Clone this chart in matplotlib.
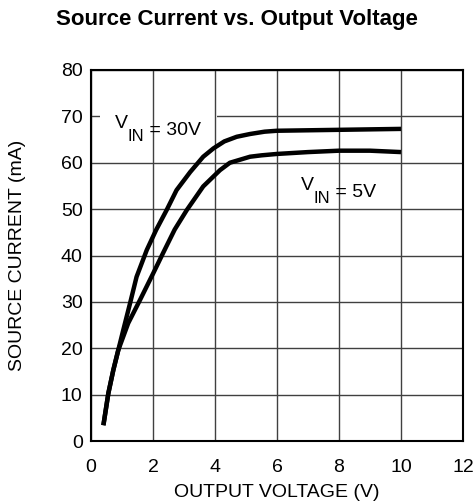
import matplotlib
matplotlib.use("Agg")
import matplotlib.pyplot as plt
from matplotlib.patches import Rectangle

plt.rcParams['font.family'] = ['Liberation Sans', 'DejaVu Sans']

# Data
v_30 = [0.4, 0.56, 0.72, 0.88, 1.04, 1.26, 1.47, 1.8, 2.1, 2.44, 2.76, 3.2, 3.62, 3.95,
        4.3, 4.7, 5.13, 5.6, 6.0, 7.0, 8.0, 9.0, 10.0]
i_30 = [3.4, 10.3, 15.3, 19.6, 23.9, 29.7, 35.4, 41.2, 45.5, 49.8, 54.1, 58.0, 61.3, 63.1,
        64.6, 65.6, 66.2, 66.7, 66.9, 67.0, 67.1, 67.2, 67.3]
v_5 = [0.4, 0.56, 0.72, 0.88, 1.2, 1.58, 2.01, 2.33, 2.7, 3.09, 3.62, 4.16, 4.48, 5.13,
       5.5, 6.0, 7.0, 8.0, 9.0, 10.0]
i_5 = [3.4, 10.3, 15.3, 19.6, 25.4, 30.4, 36.2, 40.6, 45.6, 49.8, 54.9, 58.4, 60.0, 61.3,
       61.6, 61.9, 62.3, 62.6, 62.6, 62.3]
x_ticks = [0, 2, 4, 6, 8, 10, 12]
y_ticks = [0, 10, 20, 30, 40, 50, 60, 70, 80]
labels = [("30V", 0.77, 67.4), ("5V", 6.76, 54.1)]

fig = plt.figure(figsize=(4.74, 5.04), dpi=100)
ax = fig.add_axes([91/474, 63/504, 372/474, 371/504])

ax.set_xlim(0, 12)
ax.set_ylim(0, 80)
ax.set_xticks(x_ticks)
ax.set_yticks(y_ticks)
ax.tick_params(length=0, labelsize=14)
ax.tick_params(axis='x', pad=13)
ax.tick_params(axis='y', pad=6)
ax.grid(True, color='#404040', linewidth=1.0)
ax.yaxis.set_zorder(0.4)
ax.xaxis.set_zorder(0.8)
for s in ax.spines.values():
    s.set_linewidth(1.5)
    s.set_color('black')

# white gap in the 70 gridline behind the label
ax.add_patch(Rectangle((0.3, 68.8), 3.76, 2.4, facecolor='white', edgecolor='none', zorder=0.6))

ax.plot(v_30, i_30, color='black', linewidth=3.2, solid_capstyle='butt', zorder=3)
ax.plot(v_5, i_5, color='black', linewidth=3.2, solid_capstyle='butt', zorder=3)

for val, lx, ly in labels:
    t1 = ax.text(lx, ly, 'V', fontsize=14, va='baseline', ha='left', zorder=4)
    t2 = ax.annotate('IN', xy=(1, 0), xycoords=t1, xytext=(0, -9), textcoords='offset pixels',
                     fontsize=12, va='baseline', ha='left', zorder=4)
    ax.annotate(' = ' + val, xy=(1, 0), xycoords=t2, xytext=(0, 9), textcoords='offset pixels',
                fontsize=14, va='baseline', ha='left', zorder=4)

ax.set_xlabel('OUTPUT VOLTAGE (V)', fontsize=14)
ax.set_ylabel('SOURCE CURRENT (mA)', fontsize=14)
ax.xaxis.set_label_coords(0.5, (441 - 484) / 371)
ax.yaxis.set_label_coords((26 - 91) / 372, 0.5)
fig.text(0.5, 1 - 20/504, 'Source Current vs. Output Voltage', fontsize=16,
         fontweight='bold', ha='center', va='center')

fig.savefig('out.png', dpi=100)
